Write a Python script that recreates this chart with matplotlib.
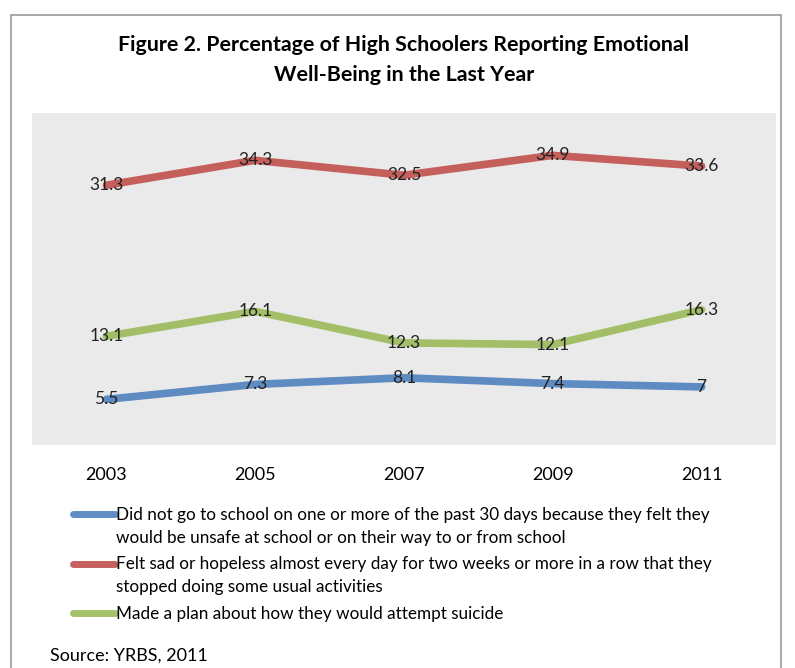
import matplotlib
matplotlib.use("Agg")
import matplotlib.pyplot as plt
from matplotlib.patches import Rectangle

plt.rcParams['font.family'] = ['Lato', 'DejaVu Sans']

years = ["2003", "2005", "2007", "2009", "2011"]
unsafe = [5.5, 7.3, 8.1, 7.4, 7]
sad = [31.3, 34.3, 32.5, 34.9, 33.6]
plan = [13.1, 16.1, 12.3, 12.1, 16.3]
series_labels = [
    "Did not go to school on one or more of the past 30 days because they felt they\nwould be unsafe at school or on their way to or from school",
    "Felt sad or hopeless almost every day for two weeks or more in a row that they\nstopped doing some usual activities",
    "Made a plan about how they would attempt suicide",
]
colors = ["#4F81BD", "#C0504D", "#9BBB59"]

fig = plt.figure(figsize=(7.95, 6.68), dpi=100)
W, H = 795, 668
ax = fig.add_axes([32 / W, 1 - 445 / H, (776 - 32) / W, (445 - 113) / H])
ax.set_facecolor("#EAEAEA")
for s in ax.spines.values():
    s.set_visible(False)

x = list(range(len(years)))
handles = []
for vals, lab, c in zip([unsafe, sad, plan], series_labels, colors):
    ln, = ax.plot(x, vals, color=c, lw=5.5, solid_capstyle="round", label=lab, alpha=0.9)
    handles.append(ln)
    for xi, v in zip(x, vals):
        ax.text(xi, v, f"{v:g}", ha="center", va="center", fontsize=12.5, color="#222222")

ax.set_xlim(-0.5, len(years) - 0.5)
ax.set_ylim(0, 40)
ax.set_yticks([])
ax.set_xticks(x)
ax.set_xticklabels(years, fontsize=13)
ax.tick_params(axis="x", length=0, pad=16)

fig.text(0.508, 1 - 45 / H, "Figure 2. Percentage of High Schoolers Reporting Emotional",
         ha="center", va="center", fontsize=15.4, fontweight="bold")
fig.text(0.508, 1 - 75 / H, "Well-Being in the Last Year",
         ha="center", va="center", fontsize=15.4, fontweight="bold")

leg = fig.legend(handles=handles, labels=series_labels, loc="upper left",
                 bbox_to_anchor=(66 / W, 1 - 500 / H), frameon=False,
                 fontsize=12.3, handlelength=2.45, handletextpad=0.1,
                 labelspacing=0.6, borderaxespad=0)
for t in leg.get_texts():
    t.set_linespacing(1.55)
for i, lh in enumerate(leg.legend_handles):
    lh.set_linewidth(5)
    lh.set_alpha(0.9)
    if "\n" in series_labels[i]:
        yd = lh.get_ydata()
        lh.set_ydata([v + 9 for v in yd])

fig.text(50 / W, 1 - 656 / H, "Source: YRBS, 2011", ha="left", va="center", fontsize=13)

fig.patches.append(Rectangle((11 / W, -0.05), (781 - 11) / W, 1.05 - 15 / H,
                             transform=fig.transFigure, fill=False,
                             edgecolor="#999999", lw=1.2))

fig.savefig("out.png", dpi=100)
